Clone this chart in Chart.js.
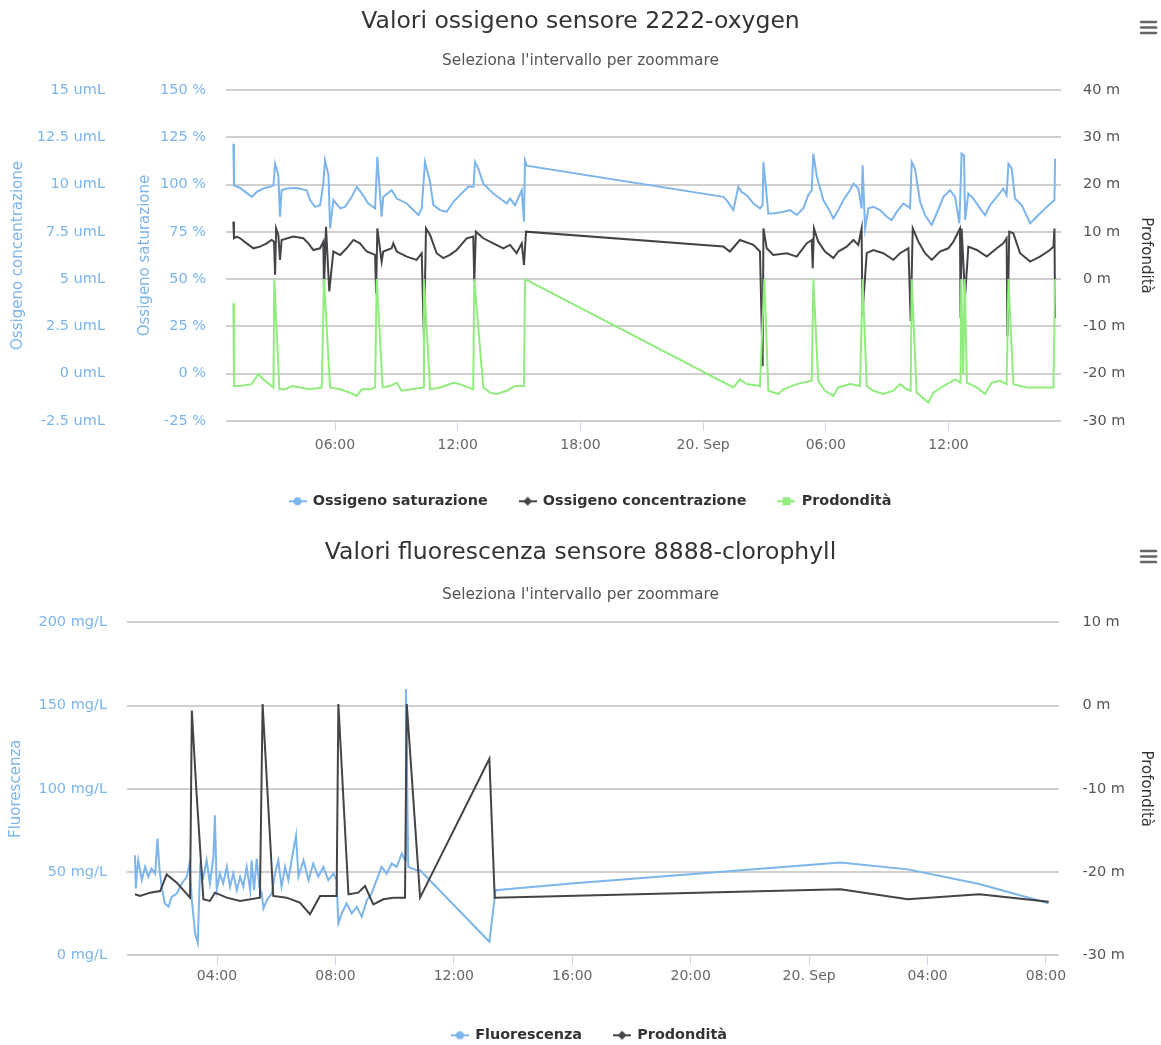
<!DOCTYPE html>
<html><head><meta charset="utf-8">
<script src="https://cdn.jsdelivr.net/npm/chart.js@4/dist/chart.umd.min.js"></script>
<style>
html,body{margin:0;padding:0;background:#fff;overflow:hidden;width:1161px;height:1045px;}
#c1{position:absolute;left:0;top:0;}
#c2{position:absolute;left:0;top:520px;}
</style></head><body>
<canvas id="c1" width="1161" height="520"></canvas>
<canvas id="c2" width="1161" height="540"></canvas>
<script>
// ---------- Chart 1: Valori ossigeno (hours since 19 Sep 00:00) ----------
const satTime = [1.03,1.06,1.36,1.93,2.17,2.5,2.82,2.99,3.07,3.23,3.31,3.39,3.64,4.13,4.62,4.78,5.02,5.27,5.43,5.51,5.68,5.76,5.92,6.25,6.49,6.82,7.06,7.31,7.63,7.96,8.07,8.28,8.36,8.77,9.02,9.51,10.08,10.24,10.4,10.65,10.81,11.14,11.46,11.79,12.11,12.52,12.77,12.85,13.01,13.25,13.74,14.07,14.4,14.56,14.8,15.13,15.24,15.29,15.37,
  24.99,25.15,25.48,25.72,25.88,26.13,26.46,26.78,26.91,26.95,27.19,27.43,27.92,28.25,28.58,28.9,29.14,29.31,29.39,29.55,29.63,29.88,30.12,30.37,30.61,30.86,31.18,31.35,31.59,31.75,31.8,31.92,32.08,32.32,32.65,32.98,33.22,33.47,33.79,34.04,34.12,34.2,34.36,34.61,34.85,35.18,35.42,35.75,36.07,36.32,36.53,36.64,36.76,36.81,36.97,37.21,37.54,37.79,38.03,38.36,38.68,38.84,38.93,39.09,39.25,39.58,39.99,40.31,40.8,41.09,41.18,41.21];
const satValue = [121.6,99.6,98.2,93.5,96.1,97.9,98.8,99.6,111,105,83,97,97.9,98.2,97,91.8,88.2,89.1,100.5,112.8,105,76.8,91.8,87.4,88.2,93.5,98.8,95.3,90,87.4,114.6,83,93.5,97,92.6,90,83.9,87.4,111.9,101.4,89.1,86.5,85.6,90.9,94.4,98.8,98.8,111.9,108.4,100.5,95.3,92.6,90,92.6,89.1,97,80.4,112.8,110,
  93.5,91.8,86.5,98.8,96.1,94.4,90,87.4,89.1,111.9,84.7,84.7,85.6,86.5,83.9,87.4,94.4,97,116.3,104.9,101.4,91.8,87.4,82.1,86.5,91.8,97,100.5,97.9,87.4,110.2,76.8,87.4,88.2,86.5,83,81.2,85.6,90,88.2,87.4,111.9,108.4,90.9,83.9,78.6,84.7,93.5,97,93.5,79.5,116.3,115.4,81.2,95.3,92.6,87.4,83.9,89.1,93.5,97.9,94.4,111,108.4,92.6,89.1,79.5,83,88.2,90.9,91.8,113.7];

const concTime = [1.03,1.06,1.19,1.36,1.68,2.01,2.33,2.66,2.9,3.02,3.07,3.12,3.23,3.31,3.39,3.96,4.45,4.7,4.94,5.27,5.43,5.46,5.56,5.72,5.92,6.25,6.57,6.9,7.22,7.55,7.96,8.01,8.07,8.28,8.36,8.77,8.85,9.02,9.51,9.99,10.24,10.35,10.45,10.65,10.97,11.3,11.62,11.95,12.44,12.76,12.81,12.89,13.25,13.74,14.23,14.56,14.88,15.13,15.24,15.34,
  24.99,25.31,25.8,26.46,26.78,26.91,26.95,27.11,27.43,28.09,28.58,29.06,29.31,29.36,29.42,29.63,29.96,30.37,30.61,31.02,31.35,31.59,31.75,31.79,32.0,32.32,32.81,33.3,33.63,34.04,34.15,34.25,34.53,34.85,35.18,35.58,35.99,36.24,36.56,36.59,36.64,36.81,36.97,37.38,37.87,38.36,38.68,38.84,38.88,38.97,39.17,39.5,39.99,40.47,40.96,41.13,41.18,41.21];
const concValue = [8.04,7.16,7.25,7.16,6.89,6.63,6.72,6.89,7.07,6.98,5.23,7.68,7.33,6.02,7.07,7.25,7.16,6.89,6.54,6.63,6.98,4.44,7.77,4.35,6.46,6.28,6.63,7.07,6.89,6.46,6.28,4.26,7.68,5.93,6.46,6.63,6.89,6.46,6.19,6.02,6.37,1.81,7.68,7.33,6.37,6.11,6.28,6.54,7.16,7.25,4.88,7.51,7.16,6.89,6.63,6.81,6.37,6.89,5.75,7.51,
  6.72,6.46,7.07,6.81,6.46,0.4,7.68,6.63,6.28,6.37,6.19,6.89,7.07,5.58,7.68,6.98,6.46,6.11,6.46,6.72,7.07,6.81,7.68,3.12,6.37,6.54,6.37,6.02,6.37,6.63,2.77,7.68,6.98,6.37,6.02,6.46,6.63,6.98,7.68,2.95,7.68,4.09,6.72,6.54,6.19,6.63,6.89,7.16,1.98,7.51,7.42,6.37,5.93,6.19,6.54,6.72,7.68,2.95];

const depthTime = [1.03,1.06,1.36,1.93,2.25,2.5,2.99,3.03,3.28,3.56,3.88,4.29,4.78,5.35,5.46,5.76,6.25,6.73,7.06,7.31,7.71,7.96,8.04,8.33,8.69,9.02,9.26,9.75,10.32,10.35,10.65,11.14,11.79,12.11,12.76,12.81,13.25,13.58,13.91,14.4,14.8,15.24,15.29,
  25.48,25.8,26.13,26.78,26.99,27.19,27.68,27.92,28.58,29.31,29.39,29.63,29.96,30.37,30.61,31.18,31.67,31.8,32.0,32.32,32.81,33.3,33.63,33.95,34.15,34.2,34.44,35.01,35.26,35.75,36.32,36.59,36.62,36.72,36.79,36.9,37.38,37.79,38.11,38.52,38.84,38.93,39.17,39.82,40.47,41.13,41.21];
const depthValue = [-5.1,-22.6,-22.6,-22.2,-20.1,-21.2,-22.9,0,-23.3,-23.3,-22.6,-22.9,-23.3,-22.9,0,-22.9,-23.3,-24,-24.7,-23.3,-23.3,-22.9,0,-22.9,-22.6,-21.9,-23.6,-23.3,-22.9,0,-23.3,-22.9,-21.9,-22.2,-23.3,0,-22.9,-24,-24.3,-23.6,-22.6,-22.6,0,
  -22.9,-21.2,-22.2,-22.6,0,-23.6,-24.3,-23.3,-22.2,-21.5,0,-21.5,-23.6,-24.7,-22.9,-22.2,-22.6,0,-22.6,-23.6,-24.3,-23.6,-22.2,-23.3,-23.6,0,-24,-26.1,-24,-22.6,-21.2,-21.9,0,-20,0,-21.9,-22.9,-24.3,-21.9,-21.5,-22.2,0,-22.2,-22.9,-22.9,-22.9,0];

const satTicks = [-25,0,25,50,75,100,125,150];
const concTicks = [-2.5,0,2.5,5,7.5,10,12.5,15];
const depthTicks = [-30,-20,-10,0,10,20,30,40];
const topTickHours = [6,12,18,24,30,36];
const topTickLabels = ['06:00','12:00','18:00','20. Sep','06:00','12:00'];

// ---------- Chart 2: Valori fluorescenza ----------
const fluoTime = [1.23,1.26,1.29,1.34,1.46,1.57,1.68,1.79,1.91,1.99,2.05,2.13,2.24,2.36,2.47,2.64,2.81,2.98,3.07,3.15,3.26,3.35,3.43,3.54,3.65,3.76,3.88,3.93,3.99,4.1,4.21,4.33,4.44,4.55,4.67,4.78,4.89,5.0,5.12,5.17,5.25,5.34,5.43,5.51,5.57,5.68,5.85,5.96,6.07,6.18,6.3,6.41,6.52,6.67,6.75,6.92,7.09,7.25,7.42,7.59,7.76,7.93,8.04,8.1,8.21,8.38,8.55,8.72,8.89,9.06,9.22,9.39,9.56,9.73,9.9,10.07,10.24,10.35,10.38,10.46,10.74,10.86,13.2,13.41,15.97,25.06,27.33,29.75,32.09];
const fluoValue = [60,40,49,57,45,53,47,52,49,70,53,41,31,29,35,37,43,47,55,33,13,7.4,53,47,57,43,59,84,39,49,43,53,41,49,39,47,41,53,39,57,39,58,41,37,28,33,37,49,57,41,53,45,57,72,47,57,45,55,47,53,45,49,45,19,25,31,25,29,23,33,37,45,53,49,55,53,61,57,160,53,51,51,8,39,43,55.6,51.5,42.7,31.1];

const depth2Time = [1.23,1.4,1.74,2.08,2.3,2.64,3.09,3.15,3.3,3.54,3.76,3.93,4.33,4.78,5.45,5.54,5.9,6.35,6.8,7.14,7.48,7.93,8.04,8.1,8.44,8.77,9.0,9.28,9.62,9.96,10.35,10.41,10.86,13.2,13.38,25.06,27.33,29.75,32.09];
const depth2Value = [-22.7,-22.9,-22.5,-22.3,-20.3,-21.3,-23.1,-0.6,-10,-23.3,-23.5,-22.5,-23.1,-23.5,-23.1,0.2,-22.9,-23.1,-23.7,-25.1,-22.9,-22.9,-22.9,0.2,-22.7,-22.5,-21.7,-23.9,-23.3,-23.1,-23.1,0.2,-23.1,-6.4,-23.1,-22.1,-23.3,-22.7,-23.6];

const fluoTicks = [0,50,100,150,200];
const depth2Ticks = [-30,-20,-10,0,10];
const botTickHours = [4,8,12,16,20,24,28,32];
const botTickLabels = ['04:00','08:00','12:00','16:00','20:00','20. Sep','04:00','08:00'];

// ---------- helpers ----------
const FONT = "'DejaVu Sans', 'Liberation Sans', sans-serif";
Chart.defaults.font.family = FONT;
Chart.defaults.animation = false;

const BLUE = '#7cb5ec', BLACK = '#434348', GREEN = '#90ed7d';

function pts(t, v){ return t.map((x, i) => ({x: x, y: v[i]})); }
function ticksFrom(arr){ return (s) => { s.ticks = arr.map(v => ({value: v})); }; }
function fixW(w){ return (s) => { s.width = w; }; }
function fixH(h){ return (s) => { s.height = h; }; }
function labelFrom(hours, labels){ return (v) => { const i = hours.indexOf(v); return i >= 0 ? labels[i] : ''; }; }

function legendSym(color, shape){
  const c = document.createElement('canvas'); c.width = 18; c.height = 10;
  const g = c.getContext('2d');
  g.strokeStyle = color; g.lineWidth = 2;
  g.beginPath(); g.moveTo(0, 5); g.lineTo(18, 5); g.stroke();
  g.fillStyle = color; g.beginPath();
  if (shape === 'circle') g.arc(9, 5, 4, 0, Math.PI * 2);
  else if (shape === 'diamond') { g.moveTo(9, 0.5); g.lineTo(13.5, 5); g.lineTo(9, 9.5); g.lineTo(4.5, 5); g.closePath(); }
  else g.rect(5, 1, 8, 8);
  g.fill();
  return c;
}

const menuIcon = {
  id: 'menuIcon',
  afterDraw(chart, args, opts) {
    const ctx = chart.ctx; ctx.save();
    ctx.strokeStyle = '#666'; ctx.lineWidth = 2.5; ctx.lineCap = 'round';
    for (let k = 0; k < 3; k++) { const y = opts.y + k * 5.5; ctx.beginPath(); ctx.moveTo(opts.x, y); ctx.lineTo(opts.x + 15, y); ctx.stroke(); }
    ctx.restore();
  }
};

// shifts the (centred) legend row horizontally
const legendShift = {
  id: 'legendShift',
  afterLayout(chart, args, opts) {
    const l = chart.legend;
    if (l && opts.dx) { l.left += opts.dx; l.right += opts.dx; }
  }
};

function legendOpts(syms){
  return {
    position: 'bottom',
    labels: {
      usePointStyle: true, pointStyleWidth: 16, boxHeight: 14, padding: 32,
      color: '#333333', font: {size: 14.4, weight: 'bold'},
      generateLabels(chart){
        const items = Chart.defaults.plugins.legend.labels.generateLabels(chart);
        items.forEach(it => { it.pointStyle = syms[it.datasetIndex]; });
        return items;
      },
      sort: (a, b) => a.datasetIndex - b.datasetIndex
    }
  };
}

const GRID = '#cfcfcf';

// ---------- Chart 1 ----------
new Chart(document.getElementById('c1'), {
  type: 'line',
  data: { datasets: [
    {label: 'Ossigeno saturazione', data: pts(satTime, satValue), yAxisID: 'ySat', borderColor: BLUE, backgroundColor: BLUE, order: 3},
    {label: 'Ossigeno concentrazione', data: pts(concTime, concValue), yAxisID: 'yConc', borderColor: BLACK, backgroundColor: BLACK, order: 2},
    {label: 'Prodondità', data: pts(depthTime, depthValue), yAxisID: 'yDepth', borderColor: GREEN, backgroundColor: GREEN, order: 1}
  ]},
  options: {
    responsive: false, devicePixelRatio: 1, animation: false,
    elements: { point: {radius: 0, hoverRadius: 0}, line: {borderWidth: 2, tension: 0} },
    layout: { padding: {top: 0, left: 0, right: 0, bottom: 1.5} },
    scales: {
      x: { type: 'linear', min: 0.67, max: 41.5,
        afterBuildTicks: ticksFrom(topTickHours), afterFit: fixH(41.1),
        ticks: {autoSkip: false, maxRotation: 0, padding: 5.6, color: '#666', font: {size: 14}, callback: labelFrom(topTickHours, topTickLabels)},
        grid: {drawOnChartArea: false, drawTicks: true, tickLength: 10, color: '#ccd6eb'}, border: {display: false} },
      yConc: { position: 'left', weight: 2, min: -2.5, max: 15,
        afterBuildTicks: ticksFrom(concTicks), afterFit: fixW(125),
        ticks: {padding: 20, color: BLUE, font: {size: 14.5}, callback: v => v + ' umL'},
        grid: {display: false, drawTicks: false, tickLength: 0}, border: {display: false},
        title: {display: true, text: 'Ossigeno concentrazione', color: BLUE, font: {size: 15}, padding: {top: 9, bottom: 0}} },
      ySat: { position: 'left', weight: 1, min: -25, max: 150,
        afterBuildTicks: ticksFrom(satTicks), afterFit: fixW(101),
        ticks: {padding: 20, color: BLUE, font: {size: 14.5}, callback: v => v + ' %'},
        grid: {color: GRID, lineWidth: 2, drawTicks: false, tickLength: 0}, border: {display: false},
        title: {display: true, text: 'Ossigeno saturazione', color: BLUE, font: {size: 15}, padding: {top: 11, bottom: 0}} },
      yDepth: { position: 'right', weight: 1, min: -30, max: 40,
        afterBuildTicks: ticksFrom(depthTicks), afterFit: fixW(100),
        ticks: {padding: 22, color: '#555', font: {size: 14.5}, callback: v => v + ' m'},
        grid: {display: false, drawTicks: false, tickLength: 0}, border: {display: false},
        title: {display: true, text: 'Profondità', color: '#333', font: {size: 15}, padding: {top: 6, bottom: 0}} }
    },
    plugins: {
      title: {display: true, text: 'Valori ossigeno sensore 2222-oxygen', color: '#333', font: {size: 23.5, weight: 'normal'}, padding: {top: 8, bottom: 4}},
      subtitle: {display: true, text: "Seleziona l'intervallo per zoommare", color: '#555', font: {size: 15.4}, padding: {top: 12, bottom: 19.3}},
      legend: legendOpts([legendSym(BLUE, 'circle'), legendSym(BLACK, 'diamond'), legendSym(GREEN, 'square')]),
      tooltip: {enabled: false},
      menuIcon: {x: 1141, y: 22},
      legendShift: {dx: 10}
    }
  },
  plugins: [menuIcon, legendShift]
});

// ---------- Chart 2 ----------
new Chart(document.getElementById('c2'), {
  type: 'line',
  data: { datasets: [
    {label: 'Fluorescenza', data: pts(fluoTime, fluoValue), yAxisID: 'yFluo', borderColor: BLUE, backgroundColor: BLUE, order: 2},
    {label: 'Prodondità', data: pts(depth2Time, depth2Value), yAxisID: 'yDepth2', borderColor: BLACK, backgroundColor: BLACK, order: 1}
  ]},
  options: {
    responsive: false, devicePixelRatio: 1, animation: false,
    elements: { point: {radius: 0, hoverRadius: 0}, line: {borderWidth: 2, tension: 0} },
    layout: { padding: {top: 0, left: 0, right: 0, bottom: 7.5} },
    scales: {
      x: { type: 'linear', min: 0.96, max: 32.44,
        afterBuildTicks: ticksFrom(botTickHours), afterFit: fixH(41.1),
        ticks: {autoSkip: false, maxRotation: 0, padding: 3.3, color: '#666', font: {size: 14}, callback: labelFrom(botTickHours, botTickLabels)},
        grid: {drawOnChartArea: false, drawTicks: true, tickLength: 10, color: '#ccd6eb'}, border: {display: false} },
      yFluo: { position: 'left', min: 0, max: 200,
        afterBuildTicks: ticksFrom(fluoTicks), afterFit: fixW(127),
        ticks: {padding: 20, color: BLUE, font: {size: 14.5}, callback: v => v + ' mg/L'},
        grid: {color: GRID, lineWidth: 2, drawTicks: false, tickLength: 0}, border: {display: false},
        title: {display: true, text: 'Fluorescenza', color: BLUE, font: {size: 15}, padding: {top: 7, bottom: 0}} },
      yDepth2: { position: 'right', min: -30, max: 10,
        afterBuildTicks: ticksFrom(depth2Ticks), afterFit: fixW(102),
        ticks: {padding: 23.5, color: '#555', font: {size: 14.5}, callback: v => v + ' m'},
        grid: {display: false, drawTicks: false, tickLength: 0}, border: {display: false},
        title: {display: true, text: 'Profondità', color: '#333', font: {size: 15}, padding: {top: 6, bottom: 0}} }
    },
    plugins: {
      title: {display: true, text: 'Valori fluorescenza sensore 8888-clorophyll', color: '#333', font: {size: 23.5, weight: 'normal'}, padding: {top: 18.9, bottom: 4}},
      subtitle: {display: true, text: "Seleziona l'intervallo per zoommare", color: '#555', font: {size: 15.4}, padding: {top: 14.35, bottom: 18.55}},
      legend: legendOpts([legendSym(BLUE, 'circle'), legendSym(BLACK, 'diamond')]),
      tooltip: {enabled: false},
      menuIcon: {x: 1141, y: 31},
      legendShift: {dx: 9}
    }
  },
  plugins: [menuIcon, legendShift]
});
</script>
</body></html>
